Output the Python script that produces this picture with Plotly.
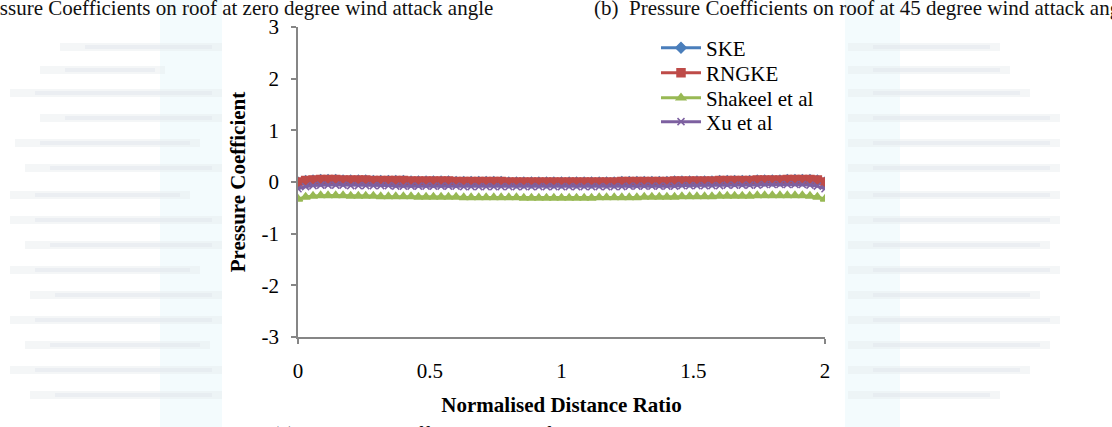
import plotly.graph_objects as go

# ---- data ----
distance_ratio = [0.000, 0.029, 0.057, 0.086, 0.114, 0.143, 0.171, 0.200, 0.229, 0.257,
                  0.286, 0.314, 0.343, 0.371, 0.400, 0.429, 0.457, 0.486, 0.514, 0.543,
                  0.571, 0.600, 0.629, 0.657, 0.686, 0.714, 0.743, 0.771, 0.800, 0.829,
                  0.857, 0.886, 0.914, 0.943, 0.971, 1.000, 1.029, 1.057, 1.086, 1.114,
                  1.143, 1.171, 1.200, 1.229, 1.257, 1.286, 1.314, 1.343, 1.371, 1.400,
                  1.429, 1.457, 1.486, 1.514, 1.543, 1.571, 1.600, 1.629, 1.657, 1.686,
                  1.714, 1.743, 1.771, 1.800, 1.829, 1.857, 1.886, 1.914, 1.943, 1.971,
                  2.000]

ske = [-0.01, 0.02, 0.03, 0.04, 0.04, 0.04, 0.03, 0.03, 0.03, 0.03,
       0.02, 0.02, 0.02, 0.02, 0.02, 0.01, 0.01, 0.01, 0.01, 0.01,
       0.01, 0.00, 0.00, 0.00, 0.00, 0.00, 0.00, 0.00, -0.01, -0.01,
       -0.01, -0.01, -0.01, -0.01, -0.01, -0.01, -0.01, -0.01, -0.01, -0.01,
       -0.01, -0.01, -0.01, 0.00, 0.00, 0.00, 0.00, 0.00, 0.00, 0.00,
       0.01, 0.01, 0.01, 0.01, 0.01, 0.01, 0.02, 0.02, 0.02, 0.02,
       0.02, 0.03, 0.03, 0.03, 0.03, 0.04, 0.04, 0.04, 0.04, 0.03,
       -0.01]

rngke = [0.00, 0.03, 0.04, 0.05, 0.05, 0.05, 0.04, 0.04, 0.04, 0.04,
         0.03, 0.03, 0.03, 0.03, 0.03, 0.02, 0.02, 0.02, 0.02, 0.02,
         0.02, 0.01, 0.01, 0.01, 0.01, 0.01, 0.01, 0.01, 0.00, 0.00,
         0.00, 0.00, 0.00, 0.00, 0.00, 0.00, 0.00, 0.00, 0.00, 0.00,
         0.00, 0.00, 0.00, 0.01, 0.01, 0.01, 0.01, 0.01, 0.01, 0.01,
         0.02, 0.02, 0.02, 0.02, 0.02, 0.02, 0.03, 0.03, 0.03, 0.03,
         0.03, 0.04, 0.04, 0.04, 0.04, 0.05, 0.05, 0.05, 0.05, 0.04,
         0.00]

shakeel = [-0.33, -0.29, -0.27, -0.26, -0.26, -0.26, -0.26, -0.27, -0.27, -0.27,
           -0.27, -0.28, -0.28, -0.28, -0.28, -0.28, -0.29, -0.29, -0.29, -0.29,
           -0.29, -0.29, -0.30, -0.30, -0.30, -0.30, -0.30, -0.30, -0.30, -0.30,
           -0.31, -0.31, -0.31, -0.31, -0.31, -0.31, -0.31, -0.31, -0.31, -0.31,
           -0.30, -0.30, -0.30, -0.30, -0.30, -0.30, -0.29, -0.29, -0.29, -0.29,
           -0.29, -0.28, -0.28, -0.28, -0.28, -0.28, -0.27, -0.27, -0.27, -0.27,
           -0.27, -0.26, -0.26, -0.26, -0.26, -0.26, -0.26, -0.26, -0.27, -0.29,
           -0.33]

xu = [-0.13, -0.09, -0.07, -0.06, -0.06, -0.06, -0.06, -0.07, -0.07, -0.07,
      -0.07, -0.07, -0.07, -0.08, -0.08, -0.08, -0.08, -0.08, -0.08, -0.08,
      -0.08, -0.08, -0.09, -0.09, -0.09, -0.09, -0.09, -0.09, -0.09, -0.09,
      -0.09, -0.09, -0.09, -0.09, -0.09, -0.09, -0.09, -0.09, -0.09, -0.09,
      -0.09, -0.09, -0.09, -0.09, -0.08, -0.08, -0.08, -0.08, -0.08, -0.08,
      -0.08, -0.07, -0.07, -0.07, -0.07, -0.07, -0.07, -0.06, -0.06, -0.06,
      -0.06, -0.06, -0.05, -0.05, -0.05, -0.05, -0.05, -0.05, -0.06, -0.08,
      -0.13]

series_names = ["SKE", "RNGKE", "Shakeel et al", "Xu et al"]
x_tick_vals = [0, 0.5, 1, 1.5, 2]
x_tick_text = ["0", "0.5", "1", "1.5", "2"]
y_tick_vals = [-3, -2, -1, 0, 1, 2, 3]
y_tick_text = ["-3", "-2", "-1", "0", "1", "2", "3"]

# ---- styling ----
FONT = "Liberation Serif, Times New Roman, serif"
FS = 21
W, H = 1112, 427
L, R, T, B = 298, 825, 27, 337  # plot area in pixels


def px(x):
    return (x - L) / (R - L)


def py(y):
    return (B - y) / (B - T)


colors = ["#4a7ebb", "#be4b48", "#98b954", "#7d60a0"]
symbols = ["diamond", "square", "triangle-up", "x-thin"]
sizes = [8, 8, 8, 7]
data = [ske, rngke, shakeel, xu]
legend_ids = ["legend", "legend2", "legend3", "legend4"]
legend_rows = [48, 73, 98, 122]

fig = go.Figure()
for name, ys, c, s, sz, lg in zip(series_names, data, colors, symbols, sizes, legend_ids):
    fig.add_trace(go.Scatter(
        x=distance_ratio, y=ys, name=name, mode="lines+markers",
        line=dict(color=c, width=3),
        marker=dict(symbol=s, size=sz, color=c, line=dict(color=c, width=1.5)),
        legend=lg,
    ))

# background page stripes (scanned page look)
shapes = []
stripe_y = [47, 70, 93, 118, 143, 168, 195, 220, 245, 270, 295, 320, 345, 370, 395]
left_spans = [(60, 222), (40, 165), (10, 222), (40, 222), (15, 200), (25, 222), (10, 190),
              (10, 222), (25, 222), (10, 200), (30, 222), (10, 222), (25, 210), (10, 222), (30, 222)]
right_spans = [(848, 1000), (848, 1010), (848, 1030), (848, 1060), (848, 1060), (848, 1060), (848, 1060),
               (848, 1060), (848, 1050), (848, 1060), (848, 1040), (848, 1060), (848, 1050), (848, 1030), (848, 1000)]
shapes.append(dict(type="rect", xref="paper", yref="paper", x0=px(160), x1=px(222), y0=py(0), y1=py(427),
                   fillcolor="#f3fbfd", line=dict(width=0), layer="below"))
shapes.append(dict(type="rect", xref="paper", yref="paper", x0=px(845), x1=px(900), y0=py(0), y1=py(427),
                   fillcolor="#f3fbfd", line=dict(width=0), layer="below"))
for yy, (a, b), (c, d) in zip(stripe_y, left_spans, right_spans):
    for x0, x1 in ((a, b), (c, d)):
        shapes.append(dict(type="rect", xref="paper", yref="paper",
                           x0=px(x0), x1=px(x1), y0=py(yy + 4), y1=py(yy - 4),
                           fillcolor="#e6eaee", opacity=0.45, line=dict(width=0), layer="below"))
        shapes.append(dict(type="rect", xref="paper", yref="paper",
                           x0=px(x0 + 25), x1=px(x1 - 10), y0=py(yy + 2), y1=py(yy - 2),
                           fillcolor="#e0e4ea", opacity=0.45, line=dict(width=0), layer="below"))
shapes.append(dict(type="rect", xref="paper", yref="paper", x0=px(222), x1=px(845), y0=py(16), y1=py(416),
                   fillcolor="white", line=dict(width=0), layer="below"))

annotations = [
    dict(text="(a)  Pressure Coefficients on roof at zero degree wind attack angle",
         xref="paper", yref="paper", x=px(495), y=py(8), xanchor="right", yanchor="middle",
         showarrow=False, font=dict(family=FONT, size=FS, color="#111")),
    dict(text="(b)  Pressure Coefficients on roof at 45 degree wind attack angle",
         xref="paper", yref="paper", x=px(592), y=py(8), xanchor="left", yanchor="middle",
         showarrow=False, font=dict(family=FONT, size=FS, color="#111")),
    dict(text="(c)  Pressure Coefficients on roof at 90 degree wind attack angle",
         xref="paper", yref="paper", x=px(270), y=py(434), xanchor="left", yanchor="middle",
         showarrow=False, font=dict(family=FONT, size=FS, color="#111")),
]

legend_style = dict(xanchor="left", yanchor="middle", bgcolor="rgba(0,0,0,0)",
                    font=dict(family=FONT, size=FS, color="black"), itemwidth=40)
legends = {lg: dict(x=px(656), y=py(row), **legend_style) for lg, row in zip(legend_ids, legend_rows)}

fig.update_layout(
    width=W, height=H,
    margin=dict(l=L, r=W - R, t=T, b=H - B, pad=0),
    paper_bgcolor="white", plot_bgcolor="rgba(0,0,0,0)",
    font=dict(family=FONT, size=FS, color="black"),
    shapes=shapes, annotations=annotations,
    showlegend=True,
    **legends,
    xaxis=dict(range=[0, 2], autorange=False, tickvals=x_tick_vals, ticktext=x_tick_text,
               showline=True, linecolor="#868686", linewidth=1.5, showgrid=False, zeroline=False,
               ticks="", ticklabelstandoff=14,
               minor=dict(tickvals=[0, 2], ticks="outside", ticklen=5, tickcolor="#868686", tickwidth=1.5),
               title=dict(text="<b>Normalised Distance Ratio</b>", standoff=15,
                          font=dict(family=FONT, size=FS))),
    yaxis=dict(range=[-3, 3], autorange=False, tickvals=y_tick_vals, ticktext=y_tick_text,
               showline=True, linecolor="#868686", linewidth=1.5, showgrid=False, zeroline=False,
               ticks="outside", ticklen=5, tickcolor="#868686", tickwidth=1.5, ticklabelstandoff=8,
               title=dict(text="<b>Pressure Coefficient</b>", standoff=10,
                          font=dict(family=FONT, size=FS))),
)

fig.write_html("out.html")
